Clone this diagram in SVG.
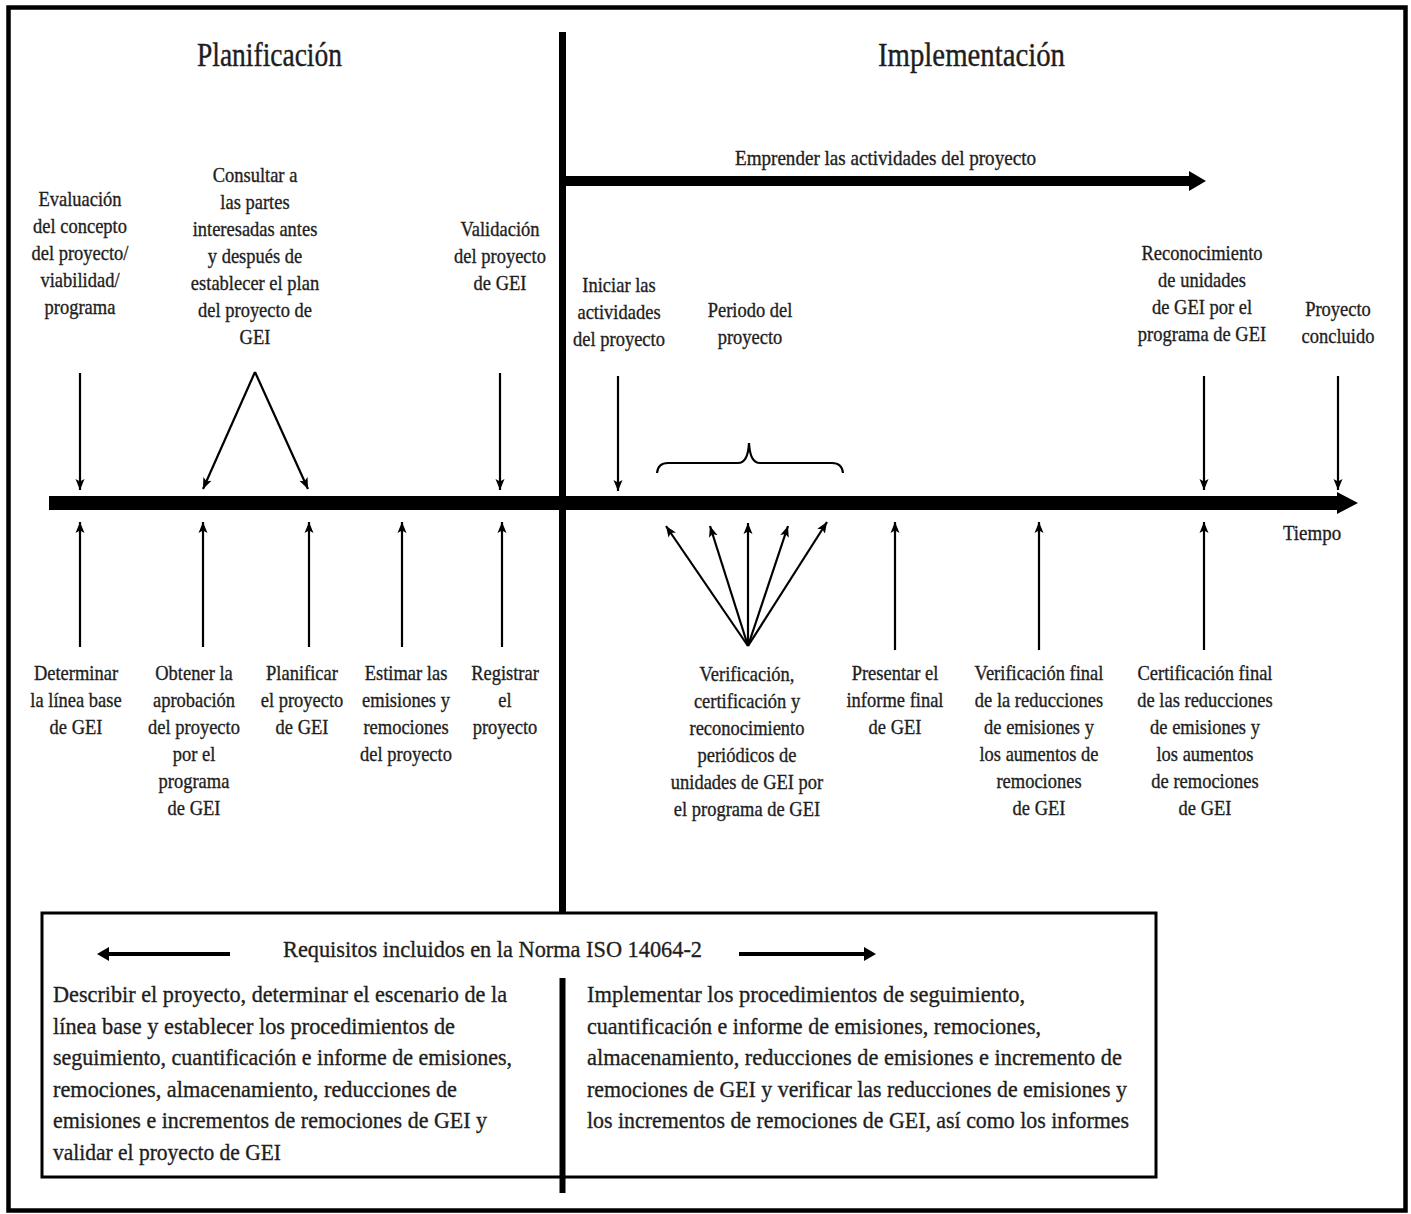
<svg xmlns="http://www.w3.org/2000/svg" width="1411" height="1214" viewBox="0 0 1411 1214">
<defs>
<style>
text{font-family:"Liberation Serif","Times New Roman",serif;fill:#1e1e1e;stroke:#1e1e1e;stroke-width:0.35}
.lbl{font-size:21.5px;text-anchor:middle}
.head{font-size:34px;stroke-width:0.4}
.par{font-size:24px}
.ln{stroke:#000;stroke-width:2.2;fill:none}
.thick{fill:#000}
</style>
<marker id="ah" markerUnits="userSpaceOnUse" markerWidth="12" markerHeight="10" refX="11" refY="5" orient="auto" viewBox="0 0 12 10">
<path d="M0,0.5 L11,5 L0,9.5 L2.5,5 Z" fill="#000"/>
</marker>
</defs>
<rect x="0" y="0" width="1411" height="1214" fill="#fff"/>
<rect id="frame" x="8.5" y="7.5" width="1397" height="1203" fill="none" stroke="#000" stroke-width="4.5"/>

<g id="headings">
<text class="head" x="197" y="66" textLength="145" lengthAdjust="spacingAndGlyphs">Planificación</text>
<text class="head" x="878" y="66" textLength="187" lengthAdjust="spacingAndGlyphs">Implementación</text>
</g>

<g id="connectors">
<line x1="562.5" y1="32" x2="562.5" y2="914" stroke="#000" stroke-width="7"/>
<line x1="562.5" y1="978" x2="562.5" y2="1193" stroke="#000" stroke-width="6"/>
<path class="thick" d="M49,496 H1337 V492 L1358,503 L1337,514 V510 H49 Z"/>
<path class="thick" d="M563,176 H1189 V171 L1206,181 L1189,191 V186 H563 Z"/>
<line class="ln" x1="80" y1="373" x2="80" y2="490" marker-end="url(#ah)"/>
<line class="ln" x1="255" y1="372" x2="203" y2="489" marker-end="url(#ah)"/>
<line class="ln" x1="255" y1="372" x2="308" y2="489" marker-end="url(#ah)"/>
<line class="ln" x1="500" y1="373" x2="500" y2="490" marker-end="url(#ah)"/>
<line class="ln" x1="618" y1="376" x2="618" y2="491" marker-end="url(#ah)"/>
<line class="ln" x1="1204" y1="376" x2="1204" y2="490" marker-end="url(#ah)"/>
<line class="ln" x1="1338" y1="376" x2="1338" y2="490" marker-end="url(#ah)"/>
<line class="ln" x1="80" y1="647" x2="80" y2="522" marker-end="url(#ah)"/>
<line class="ln" x1="203" y1="647" x2="203" y2="522" marker-end="url(#ah)"/>
<line class="ln" x1="309" y1="647" x2="309" y2="522" marker-end="url(#ah)"/>
<line class="ln" x1="402" y1="647" x2="402" y2="522" marker-end="url(#ah)"/>
<line class="ln" x1="502" y1="647" x2="502" y2="522" marker-end="url(#ah)"/>
<line class="ln" x1="895" y1="650" x2="895" y2="522" marker-end="url(#ah)"/>
<line class="ln" x1="1039" y1="650" x2="1039" y2="522" marker-end="url(#ah)"/>
<line class="ln" x1="1204" y1="650" x2="1204" y2="522" marker-end="url(#ah)"/>
<line class="ln" x1="748" y1="646" x2="666" y2="526" marker-end="url(#ah)"/>
<line class="ln" x1="748" y1="646" x2="710" y2="526" marker-end="url(#ah)"/>
<line class="ln" x1="748" y1="646" x2="748" y2="523" marker-end="url(#ah)"/>
<line class="ln" x1="748" y1="646" x2="788" y2="526" marker-end="url(#ah)"/>
<line class="ln" x1="748" y1="646" x2="827" y2="522" marker-end="url(#ah)"/>
<path class="ln" d="M657,473 Q658,463 668,463 H738 Q748,463 749,443 Q750,463 760,463 H832 Q842,463 843,473"/>
<line x1="230" y1="954" x2="105" y2="954" stroke="#000" stroke-width="4"/>
<path class="thick" d="M97,954 L109,947 L109,961 Z"/>
<line x1="739" y1="954" x2="866" y2="954" stroke="#000" stroke-width="4"/>
<path class="thick" d="M876,954 L864,947 L864,961 Z"/>
</g>

<g id="n-emprender"><text class="lbl" x="885.5" y="165" textLength="301" lengthAdjust="spacingAndGlyphs">Emprender las actividades del proyecto</text></g>

<g id="n-evaluacion" transform="translate(80 0) scale(0.86 1)"><text class="lbl" y="206"><tspan x="0">Evaluación</tspan><tspan x="0" dy="27">del concepto</tspan><tspan x="0" dy="27">del proyecto/</tspan><tspan x="0" dy="27">viabilidad/</tspan><tspan x="0" dy="27">programa</tspan></text></g>
<g id="n-consultar" transform="translate(255 0) scale(0.86 1)"><text class="lbl" y="182"><tspan x="0">Consultar a</tspan><tspan x="0" dy="27">las partes</tspan><tspan x="0" dy="27">interesadas antes</tspan><tspan x="0" dy="27">y después de</tspan><tspan x="0" dy="27">establecer el plan</tspan><tspan x="0" dy="27">del proyecto de</tspan><tspan x="0" dy="27">GEI</tspan></text></g>
<g id="n-validacion" transform="translate(500 0) scale(0.86 1)"><text class="lbl" y="236"><tspan x="0">Validación</tspan><tspan x="0" dy="27">del proyecto</tspan><tspan x="0" dy="27">de GEI</tspan></text></g>
<g id="n-iniciar" transform="translate(619 0) scale(0.86 1)"><text class="lbl" y="292"><tspan x="0">Iniciar las</tspan><tspan x="0" dy="27">actividades</tspan><tspan x="0" dy="27">del proyecto</tspan></text></g>
<g id="n-periodo" transform="translate(750 0) scale(0.86 1)"><text class="lbl" y="317"><tspan x="0">Periodo del</tspan><tspan x="0" dy="27">proyecto</tspan></text></g>
<g id="n-reconocimiento" transform="translate(1202 0) scale(0.86 1)"><text class="lbl" y="260"><tspan x="0">Reconocimiento</tspan><tspan x="0" dy="27">de unidades</tspan><tspan x="0" dy="27">de GEI por el</tspan><tspan x="0" dy="27">programa de GEI</tspan></text></g>
<g id="n-concluido" transform="translate(1338 0) scale(0.86 1)"><text class="lbl" y="316"><tspan x="0">Proyecto</tspan><tspan x="0" dy="27">concluido</tspan></text></g>

<g id="n-determinar" transform="translate(76 0) scale(0.86 1)"><text class="lbl" y="680"><tspan x="0">Determinar</tspan><tspan x="0" dy="27">la línea base</tspan><tspan x="0" dy="27">de GEI</tspan></text></g>
<g id="n-obtener" transform="translate(194 0) scale(0.86 1)"><text class="lbl" y="680"><tspan x="0">Obtener la</tspan><tspan x="0" dy="27">aprobación</tspan><tspan x="0" dy="27">del proyecto</tspan><tspan x="0" dy="27">por el</tspan><tspan x="0" dy="27">programa</tspan><tspan x="0" dy="27">de GEI</tspan></text></g>
<g id="n-planificar" transform="translate(302 0) scale(0.86 1)"><text class="lbl" y="680"><tspan x="0">Planificar</tspan><tspan x="0" dy="27">el proyecto</tspan><tspan x="0" dy="27">de GEI</tspan></text></g>
<g id="n-estimar" transform="translate(406 0) scale(0.86 1)"><text class="lbl" y="680"><tspan x="0">Estimar las</tspan><tspan x="0" dy="27">emisiones y</tspan><tspan x="0" dy="27">remociones</tspan><tspan x="0" dy="27">del proyecto</tspan></text></g>
<g id="n-registrar" transform="translate(505 0) scale(0.86 1)"><text class="lbl" y="680"><tspan x="0">Registrar</tspan><tspan x="0" dy="27">el</tspan><tspan x="0" dy="27">proyecto</tspan></text></g>
<g id="n-verificacion" transform="translate(747 0) scale(0.86 1)"><text class="lbl" y="681"><tspan x="0">Verificación,</tspan><tspan x="0" dy="27">certificación y</tspan><tspan x="0" dy="27">reconocimiento</tspan><tspan x="0" dy="27">periódicos de</tspan><tspan x="0" dy="27">unidades de GEI por</tspan><tspan x="0" dy="27">el programa de GEI</tspan></text></g>
<g id="n-presentar" transform="translate(895 0) scale(0.86 1)"><text class="lbl" y="680"><tspan x="0">Presentar el</tspan><tspan x="0" dy="27">informe final</tspan><tspan x="0" dy="27">de GEI</tspan></text></g>
<g id="n-verif-final" transform="translate(1039 0) scale(0.86 1)"><text class="lbl" y="680"><tspan x="0">Verificación final</tspan><tspan x="0" dy="27">de la reducciones</tspan><tspan x="0" dy="27">de emisiones y</tspan><tspan x="0" dy="27">los aumentos de</tspan><tspan x="0" dy="27">remociones</tspan><tspan x="0" dy="27">de GEI</tspan></text></g>
<g id="n-cert-final" transform="translate(1205 0) scale(0.86 1)"><text class="lbl" y="680"><tspan x="0">Certificación final</tspan><tspan x="0" dy="27">de las reducciones</tspan><tspan x="0" dy="27">de emisiones y</tspan><tspan x="0" dy="27">los aumentos</tspan><tspan x="0" dy="27">de remociones</tspan><tspan x="0" dy="27">de GEI</tspan></text></g>
<g id="n-tiempo" transform="translate(1312 0) scale(0.88 1)"><text class="lbl" y="540"><tspan x="0">Tiempo</tspan></text></g>

<g id="n-requisitos">
<rect x="42" y="913" width="1114" height="264" fill="none" stroke="#000" stroke-width="3"/>
<text class="par" x="283" y="957" textLength="419" lengthAdjust="spacingAndGlyphs">Requisitos incluidos en la Norma ISO 14064-2</text>
<text class="par" x="53" y="1002" textLength="454" lengthAdjust="spacingAndGlyphs">Describir el proyecto, determinar el escenario de la</text>
<text class="par" x="53" y="1033.6" textLength="402" lengthAdjust="spacingAndGlyphs">línea base y establecer los procedimientos de</text>
<text class="par" x="53" y="1065.2" textLength="459" lengthAdjust="spacingAndGlyphs">seguimiento, cuantificación e informe de emisiones,</text>
<text class="par" x="53" y="1096.8" textLength="404" lengthAdjust="spacingAndGlyphs">remociones, almacenamiento, reducciones de</text>
<text class="par" x="53" y="1128.4" textLength="434" lengthAdjust="spacingAndGlyphs">emisiones e incrementos de remociones de GEI y</text>
<text class="par" x="53" y="1160" textLength="228" lengthAdjust="spacingAndGlyphs">validar el proyecto de GEI</text>
<text class="par" x="587" y="1002" textLength="438" lengthAdjust="spacingAndGlyphs">Implementar los procedimientos de seguimiento,</text>
<text class="par" x="587" y="1033.6" textLength="454" lengthAdjust="spacingAndGlyphs">cuantificación e informe de emisiones, remociones,</text>
<text class="par" x="587" y="1065.2" textLength="535" lengthAdjust="spacingAndGlyphs">almacenamiento, reducciones de emisiones e incremento de</text>
<text class="par" x="587" y="1096.8" textLength="540" lengthAdjust="spacingAndGlyphs">remociones de GEI y verificar las reducciones de emisiones y</text>
<text class="par" x="587" y="1128.4" textLength="542" lengthAdjust="spacingAndGlyphs">los incrementos de remociones de GEI, así como los informes</text>
</g>
</svg>
